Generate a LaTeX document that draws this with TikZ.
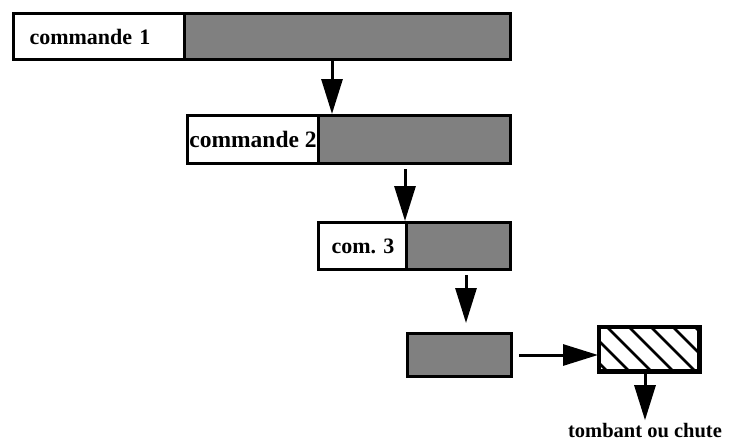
\documentclass[tikz,border=0pt]{standalone}
\usepackage{fontspec}
\setmainfont{Liberation Serif}
\usetikzlibrary{arrows.meta,calc}
\begin{document}
\begin{tikzpicture}[x=1pt,y=-1pt,
  part/.style={draw=black,line width=3pt,rectangle,anchor=north west,inner sep=0pt},
  white/.style={part,fill=white},
  grey/.style={part,fill=black!50},
  arr/.style={line width=3pt,-{Triangle[width=21pt,length=35pt]}}]
\useasboundingbox (0,0) rectangle (732,442);
% box 1
\node[white,minimum width=171pt,minimum height=46pt,text width=139pt,inner xsep=16pt,align=left,
  font=\fontsize{22}{24}\selectfont\bfseries] (b1w) at (12,12) {commande 1};
\node[grey,minimum width=326pt,minimum height=46pt] (b1g) at (183,12) {};
% box 2
\node[white,minimum width=131pt,minimum height=48pt,font=\fontsize{23.5}{25}\selectfont\bfseries] (b2w) at (186,114) {commande 2};
\node[grey,minimum width=192pt,minimum height=48pt] (b2g) at (317,114) {};
% box 3
\node[white,minimum width=89pt,minimum height=47pt,font=\fontsize{22}{24}\selectfont\bfseries] (b3w) at (317,221) {com. 3};
\node[grey,minimum width=104pt,minimum height=47pt] (b3g) at (405,221) {};
% box 4
\node[grey,minimum width=104pt,minimum height=43pt] (b4) at (406,332) {};
% box 5 hatched
\node[white,minimum width=99pt,minimum height=43pt] (b5) at (598,326) {};
\begin{scope}
  \clip (b5.north west) rectangle (b5.south east);
  \foreach \i in {0,...,6}{
    \draw[line width=2.8pt] ($(b5.north west)+(\i*22-36,0)$) -- ++(50,50);
  }
\end{scope}
\draw[line width=3pt] (b5.north west) rectangle (b5.south east);
% text
\node[font=\fontsize{20.5}{22}\selectfont\bfseries] (lab) at (645,431) {tombant ou chute};
% arrows
\draw[arr] (b1g.south -| 332,0) -- (b2w.north -| 332,0);
\draw[arr,shorten <=4pt] (b2g.south -| b3g.north west) -- (b3g.north west);
\draw[arr,shorten <=4pt] (b3g.south -| 466,0) -- ($(b4.north -| 466,0)+(0,-9)$);
\draw[arr,shorten <=6pt] (b4.east) -- (b5.west |- b4.east);
\draw[arr] (b5.south -| lab.north) -- (lab.north);
\end{tikzpicture}
\end{document}
